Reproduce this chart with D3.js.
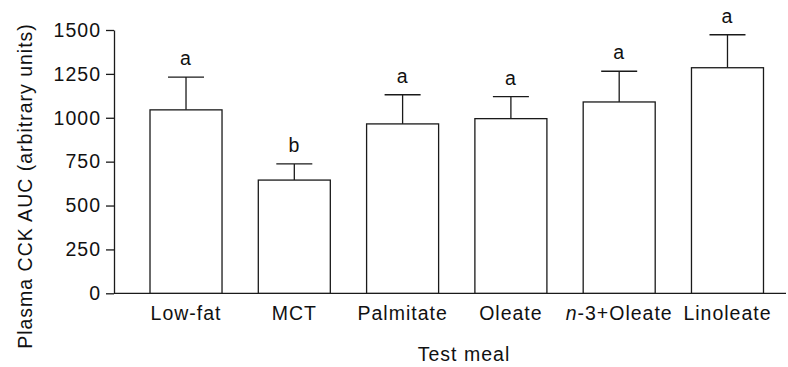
<!DOCTYPE html>
<html>
<head>
<meta charset="utf-8">
<script src="https://cdn.jsdelivr.net/npm/d3@7"></script>
<style>
  html, body { margin: 0; padding: 0; background: #fff; }
  svg { display: block; }
  text { font-family: "Liberation Sans", Arial, Helvetica, sans-serif; fill: #111; letter-spacing: 1px; }
</style>
</head>
<body>
<svg id="chart" width="788" height="367"></svg>
<script>
// Test meals and plasma CCK AUC (mean + SE)
const meals = ["Low-fat", "MCT", "Palmitate", "Oleate", "n-3+Oleate", "Linoleate"];
const meanAUC = [1045, 645, 965, 995, 1090, 1285];
const errAUC = [187, 92, 166, 125, 175, 188];
const sigLetters = ["a", "b", "a", "a", "a", "a"];
const yTicks = [0, 250, 500, 750, 1000, 1250, 1500];

const svg = d3.select("#chart");
const ink = "#1a1a1a";

const y = d3.scaleLinear().domain([0, 1500]).range([293.3, 30]);
const x = d3.scaleBand()
  .domain(meals)
  .range([114, 799.5])
  .paddingInner(0.335)
  .paddingOuter(0.3325);

// y axis
const yAxis = svg.append("g")
  .attr("transform", "translate(114,0)")
  .call(d3.axisLeft(y).tickValues(yTicks).tickFormat(d3.format("d"))
    .tickSize(8).tickSizeOuter(0).tickPadding(6));
yAxis.select(".domain").attr("stroke", ink).attr("stroke-width", 1.3);
yAxis.selectAll(".tick line").attr("stroke", ink).attr("stroke-width", 1.3);
yAxis.selectAll(".tick text")
  .attr("font-size", 19.5)
  .attr("font-family", "Liberation Sans, Arial, sans-serif")
  .attr("fill", "#111")
  .attr("dx", 1);

// x axis baseline
svg.append("line")
  .attr("x1", 114).attr("x2", 786)
  .attr("y1", y(0)).attr("y2", y(0))
  .attr("stroke", ink).attr("stroke-width", 1.3);

const g = svg.append("g").selectAll("g").data(meals).join("g");

// error bars (upper only)
g.append("line")
  .attr("x1", d => x(d) + x.bandwidth() / 2)
  .attr("x2", d => x(d) + x.bandwidth() / 2)
  .attr("y1", (d, i) => y(meanAUC[i]))
  .attr("y2", (d, i) => y(meanAUC[i] + errAUC[i]))
  .attr("stroke", ink).attr("stroke-width", 1.3);
g.append("line")
  .attr("x1", d => x(d) + x.bandwidth() / 2 - 18)
  .attr("x2", d => x(d) + x.bandwidth() / 2 + 18)
  .attr("y1", (d, i) => y(meanAUC[i] + errAUC[i]))
  .attr("y2", (d, i) => y(meanAUC[i] + errAUC[i]))
  .attr("stroke", ink).attr("stroke-width", 1.3);

// bars
g.append("rect")
  .attr("x", d => x(d))
  .attr("width", x.bandwidth())
  .attr("y", (d, i) => y(meanAUC[i]))
  .attr("height", (d, i) => y(0) - y(meanAUC[i]))
  .attr("fill", "#fff")
  .attr("stroke", ink).attr("stroke-width", 1.3);

// significance letters
g.append("text")
  .attr("x", d => x(d) + x.bandwidth() / 2)
  .attr("y", (d, i) => y(meanAUC[i] + errAUC[i]) - 12)
  .attr("text-anchor", "middle")
  .attr("font-size", 19.5)
  .text((d, i) => sigLetters[i]);

// category labels
const cat = g.append("text")
  .attr("x", d => x(d) + x.bandwidth() / 2)
  .attr("y", 320)
  .attr("text-anchor", "middle")
  .attr("font-size", 19.5);
cat.each(function (d) {
  const t = d3.select(this);
  if (d.startsWith("n-")) {
    t.append("tspan").attr("font-style", "italic").text("n");
    t.append("tspan").text(d.slice(1));
  } else {
    t.text(d);
  }
});

// axis titles
svg.append("text")
  .attr("x", 464).attr("y", 361)
  .attr("text-anchor", "middle")
  .attr("font-size", 19.5)
  .text("Test meal");

svg.append("text")
  .attr("transform", "translate(32,186) rotate(-90)")
  .attr("text-anchor", "middle")
  .attr("font-size", 19.5)
  .text("Plasma CCK AUC (arbitrary units)");
</script>
</body>
</html>
